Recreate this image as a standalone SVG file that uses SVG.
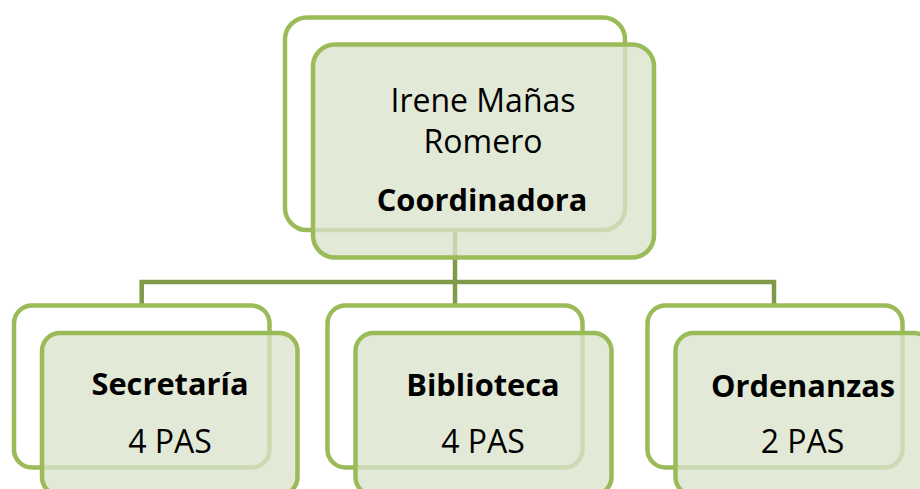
<svg xmlns="http://www.w3.org/2000/svg" width="920" height="489" viewBox="0 0 920 489">
<style>
.back{fill:#ffffff;stroke:#9bbb59;stroke-width:4.5}
.front{fill:#dae3ca;fill-opacity:0.78;stroke:#9bbb59;stroke-width:4.5}
.conn{fill:none;stroke:#7f9a48;stroke-width:4.5}
.t{font-family:"Open Sans","Liberation Sans",sans-serif;fill:#000;text-anchor:middle}
.r{font-size:32px}
.b{font-size:30.8px;font-weight:bold}
</style>
<rect width="920" height="489" fill="#ffffff"/>
<g id="connectors">
<path class="conn" d="M455 230V282M141.7 305.5V282H774V305.5M455 282V305.5"/>
</g>
<g id="node-coordinadora">
<rect class="back" x="285" y="17.5" width="340" height="212.5" rx="22"/>
<rect class="front" x="313" y="44.5" width="341" height="213" rx="22"/>
<text class="t r" x="483" y="112">Irene Mañas</text>
<text class="t r" x="483" y="153">Romero</text>
<text class="t b" x="482" y="211">Coordinadora</text>
</g>
<g id="node-secretaria">
<rect class="back" x="14" y="305.5" width="255.5" height="162" rx="18"/>
<rect class="front" x="42" y="333" width="255.5" height="162" rx="18"/>
<text class="t b" x="170" y="395">Secretaría</text>
<text class="t r" x="170" y="452.7">4 PAS</text>
</g>
<g id="node-biblioteca">
<rect class="back" x="327.5" y="305.5" width="255" height="162" rx="18"/>
<rect class="front" x="355.5" y="333" width="256" height="162" rx="18"/>
<text class="t b" x="483" y="396">Biblioteca</text>
<text class="t r" x="483" y="452.7">4 PAS</text>
</g>
<g id="node-ordenanzas">
<rect class="back" x="647.5" y="305.5" width="255" height="162" rx="18"/>
<rect class="front" x="675.5" y="333" width="256" height="162" rx="18"/>
<text class="t b" x="803" y="396.5">Ordenanzas</text>
<text class="t r" x="802.5" y="452.7">2 PAS</text>
</g>
</svg>
